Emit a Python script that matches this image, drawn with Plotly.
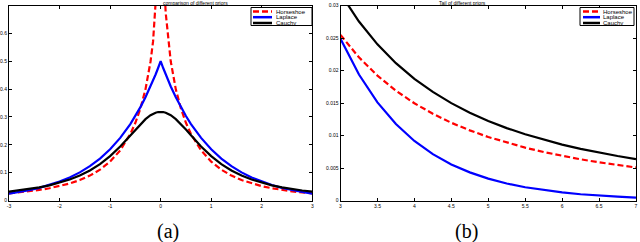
import plotly.graph_objects as go

# ---------- data: panel (a) ----------
x_a = [-3.0, -2.8, -2.6, -2.4, -2.2, -2.0, -1.8, -1.6, -1.4, -1.2, -1.0, -0.8, -0.6, -0.5, -0.4, -0.3,
       -0.2, -0.15, -0.1, -0.05, 0.0, 0.05, 0.1, 0.15, 0.2, 0.3, 0.4, 0.5, 0.6, 0.8, 1.0, 1.2, 1.4,
       1.6, 1.8, 2.0, 2.2, 2.4, 2.6, 2.8, 3.0]
horseshoe_a = [0.0255, 0.0289, 0.0329, 0.0379, 0.0439, 0.0515, 0.0611, 0.0733, 0.0893, 0.1106, 0.1395,
               0.1800, 0.2388, 0.2790, 0.3305, 0.3990, 0.4990, 0.5710, 0.6730, 0.8490, 1.5000,
               0.8490, 0.6730, 0.5710, 0.4990, 0.3990, 0.3305, 0.2790, 0.2388, 0.1800, 0.1395,
               0.1106, 0.0893, 0.0733, 0.0611, 0.0515, 0.0439, 0.0379, 0.0329, 0.0289, 0.0255]
laplace_a = [0.0249, 0.0304, 0.0371, 0.0454, 0.0554, 0.0677, 0.0826, 0.1009, 0.1233, 0.1506, 0.1839,
             0.2247, 0.2744, 0.3033, 0.3352, 0.3704, 0.4094, 0.4304, 0.4524, 0.4756, 0.5000,
             0.4756, 0.4524, 0.4304, 0.4094, 0.3704, 0.3352, 0.3033, 0.2744, 0.2247, 0.1839,
             0.1506, 0.1233, 0.1009, 0.0826, 0.0677, 0.0554, 0.0454, 0.0371, 0.0304, 0.0249]
cauchy_a = [0.0318, 0.0360, 0.0410, 0.0471, 0.0545, 0.0637, 0.0751, 0.0894, 0.1075, 0.1305, 0.1592,
            0.1941, 0.2341, 0.2546, 0.2744, 0.2920, 0.3061, 0.3113, 0.3152, 0.3175, 0.3183,
            0.3175, 0.3152, 0.3113, 0.3061, 0.2920, 0.2744, 0.2546, 0.2341, 0.1941, 0.1592,
            0.1305, 0.1075, 0.0894, 0.0751, 0.0637, 0.0545, 0.0471, 0.0410, 0.0360, 0.0318]

# ---------- data: panel (b) ----------
x_b = [3.0, 3.25, 3.5, 3.75, 4.0, 4.25, 4.5, 4.75, 5.0, 5.25, 5.5, 5.75, 6.0, 6.25, 6.5, 6.75, 7.0]
horseshoe_b = [0.02548, 0.02202, 0.01921, 0.01689, 0.01496, 0.01334, 0.01196, 0.01079, 0.00977,
               0.00890, 0.00813, 0.00746, 0.00687, 0.00634, 0.00587, 0.00546, 0.00508]
laplace_b = [0.02489, 0.01938, 0.01510, 0.01176, 0.00916, 0.00713, 0.00555, 0.00433, 0.00337,
             0.00262, 0.00204, 0.00159, 0.00124, 0.000965, 0.000752, 0.000585, 0.000456]
cauchy_b = [0.03183, 0.02753, 0.02402, 0.02113, 0.01872, 0.01670, 0.01498, 0.01351, 0.01224,
            0.01114, 0.01019, 0.00934, 0.00860, 0.00795, 0.00736, 0.00684, 0.00637]

# ---------- tick labels ----------
xt_a = [-3, -2, -1, 0, 1, 2, 3]
xt_a_lab = ["-3", "-2", "-1", "0", "1", "2", "3"]
yt_a = [0, 0.1, 0.2, 0.3, 0.4, 0.5, 0.6]
yt_a_lab = ["0", "0.1", "0.2", "0.3", "0.4", "0.5", "0.6"]
xt_b = [3, 3.5, 4, 4.5, 5, 5.5, 6, 6.5, 7]
xt_b_lab = ["3", "3.5", "4", "4.5", "5", "5.5", "6", "6.5", "7"]
yt_b = [0, 0.005, 0.01, 0.015, 0.02, 0.025, 0.03]
yt_b_lab = ["0", "0.005", "0.01", "0.015", "0.02", "0.025", "0.03"]

titles = ["comparison of different priors", "Tail of different priors"]
captions = ["(a)", "(b)"]
names = ["Horseshoe", "Laplace", "Cauchy"]
colors = ["#ff0000", "#0000ff", "#000000"]
dashes = ["6px,3px", "solid", "solid"]

W, H = 640, 242
def px(x):
    return x / W
def py(y):
    return 1 - y / H

fig = go.Figure()
panels = [
    (x_a, [horseshoe_a, laplace_a, cauchy_a], "x", "y"),
    (x_b, [horseshoe_b, laplace_b, cauchy_b], "x2", "y2"),
]
for xs, series, xa, ya in panels:
    for name, ys, c, d in zip(names, series, colors, dashes):
        fig.add_trace(go.Scatter(x=xs, y=ys, mode="lines", name=name, xaxis=xa, yaxis=ya,
                                 showlegend=False, line=dict(color=c, width=2.2, dash=d)))

tf = dict(size=5, color="black", family="Liberation Sans")
ax_common = dict(showline=True, linecolor="black", linewidth=1, mirror="ticks", ticks="inside",
                 ticklen=3, tickcolor="black", showgrid=False, zeroline=False, automargin=False,
                 tickfont=tf)
fig.update_layout(
    width=W, height=H, margin=dict(l=0, r=0, t=0, b=0, autoexpand=False),
    paper_bgcolor="white", plot_bgcolor="white", showlegend=False,
    xaxis=dict(domain=[px(9), px(312.3)], range=[-3, 3], tickvals=xt_a, ticktext=xt_a_lab,
               anchor="y", **ax_common),
    yaxis=dict(domain=[py(200.5), py(5.5)], range=[0, 0.7], tickvals=yt_a, ticktext=yt_a_lab,
               anchor="x", **ax_common),
    xaxis2=dict(domain=[px(340.5), px(636)], range=[3, 7], tickvals=xt_b, ticktext=xt_b_lab,
                anchor="y2", **ax_common),
    yaxis2=dict(domain=[py(200.5), py(5.5)], range=[0, 0.03], tickvals=yt_b, ticktext=yt_b_lab,
                anchor="x2", **ax_common),
)

# titles and captions
for cx, ccx, t, cap in [(161, 155, titles[0], captions[0]), (488, 480, titles[1], captions[1])]:
    fig.add_annotation(x=px(cx), y=py(2.5), xref="paper", yref="paper", text=t, showarrow=False,
                       font=tf, yanchor="middle")
    fig.add_annotation(x=px(ccx), y=py(231), xref="paper", yref="paper", text=cap, showarrow=False,
                       font=dict(size=20, family="Liberation Serif", color="black"),
                       yanchor="middle")

# legends drawn as boxed keys (MATLAB style)
legends = [
    dict(box=(251, 7.5, 312, 25.5), l0=253, l1=272, tx=273.5),
    dict(box=(580, 7.5, 634, 25.5), l0=583, l1=600, tx=601),
]
rows = [11.5, 17.2, 23.0]
for lg in legends:
    x0, y0, x1, y1 = lg["box"]
    fig.add_shape(type="rect", xref="paper", yref="paper", x0=px(x0), y0=py(y0), x1=px(x1), y1=py(y1),
                  line=dict(color="black", width=1), fillcolor="white", layer="above")
    for name, c, d, ry in zip(names, colors, dashes, rows):
        fig.add_shape(type="line", xref="paper", yref="paper", x0=px(lg["l0"]), x1=px(lg["l1"]),
                      y0=py(ry), y1=py(ry), line=dict(color=c, width=2.5, dash=d), layer="above")
        fig.add_annotation(x=px(lg["tx"]), y=py(ry), xref="paper", yref="paper", text=name,
                           showarrow=False, xanchor="left", yanchor="middle",
                           font=dict(size=6, family="Liberation Sans", color="black"))

fig.write_html("out.html", config={"displayModeBar": False},
               post_script="document.body.style.margin='0';document.body.style.overflow='hidden';")
